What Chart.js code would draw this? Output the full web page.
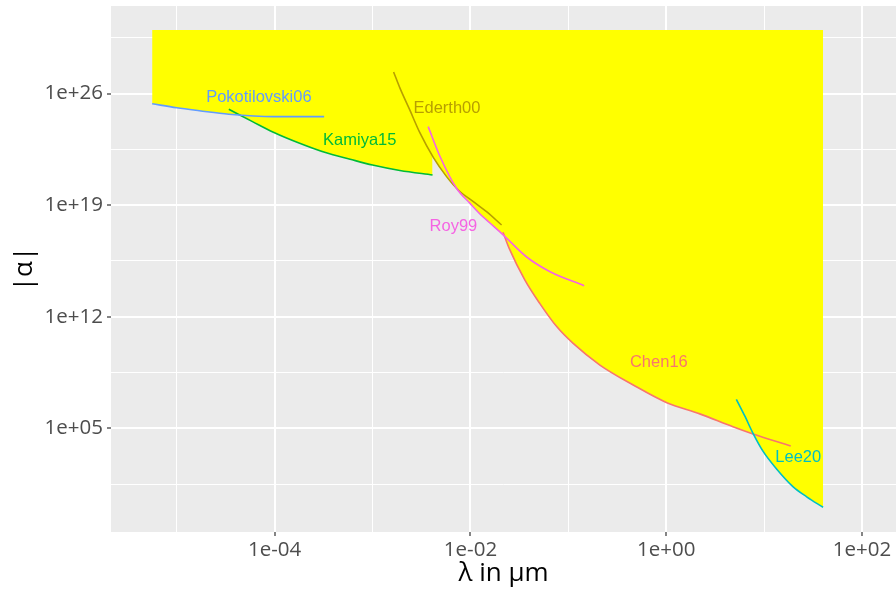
<!DOCTYPE html>
<html>
<head>
<meta charset="utf-8">
<script src="https://cdn.jsdelivr.net/npm/chart.js@4.4.1/dist/chart.umd.min.js"></script>
<style>
  html, body { margin: 0; padding: 0; background: #fff; }
</style>
</head>
<body>
<canvas id="chart" width="896" height="592"></canvas>
<script>
// lambda in um, |alpha| per experiment
const pokoX = [5.6e-6, 1e-5, 1.7e-5, 3.4e-5, 9.7e-5, 3.2e-4];
const pokoY = [2.3e25, 1.3e25, 8.5e24, 5.1e24, 3.6e24, 3.6e24];

const kamiyaX = [3.4e-5, 6.0e-5, 9.7e-5, 1.8e-4, 3.3e-4, 5.9e-4, 1e-3, 1.9e-3, 4.1e-3];
const kamiyaY = [1.05e25, 1.7e24, 3.8e23, 7.7e22, 2.0e22, 7.6e21, 3.3e21, 1.5e21, 7.9e20];

const ederthX = [1.64e-3, 1.9e-3, 2.4e-3, 3.05e-3, 4.2e-3, 5.7e-3, 7.5e-3, 1.07e-2, 1.46e-2, 2.08e-2];
const ederthY = [2.3e27, 2.3e26, 9.5e24, 3.4e23, 9.2e21, 6.2e20, 9.0e19, 1.66e19, 3.9e18, 5.7e17];

const royX = [3.7e-3, 4.9e-3, 7.2e-3, 9.9e-3, 1.25e-2, 1.58e-2, 2.0e-2, 2.5e-2, 3.75e-2, 6.5e-2, 0.145];
const royY = [8.5e23, 1.1e22, 1.15e20, 1.3e19, 2.8e18, 7.6e17, 2.1e17, 5.7e16, 5.6e15, 6.7e14, 8.9e13];

const chenX = [2.15e-2, 2.5e-2, 3.6e-2, 5.1e-2, 7.6e-2, 0.112, 0.21, 0.46, 1.0, 2.2, 4.8, 7.7, 18.7];
const chenY = [2.0e17, 1.8e16, 2.0e14, 6.9e12, 2.4e11, 2.1e10, 9.3e8, 5.2e7, 4.2e6, 8.0e5, 1.25e5, 4.4e4, 7.6e3];

const leeX = [5.2, 6.4, 7.7, 9.8, 13.4, 19.8, 27.2, 40];
const leeY = [6.6e6, 5.3e5, 4.8e4, 3.4e3, 2.8e2, 21, 5.0, 1.1];

// top of the excluded (yellow) region
const excludedTop = 1e30;

// curve labels
const labelNames = ["Pokotilovski06", "Kamiya15", "Ederth00", "Roy99", "Chen16", "Lee20"];
const labelX = [6.9e-5, 7.4e-4, 5.75e-3, 6.7e-3, 0.84, 22.3];
const labelY = [7.3e25, 1.5e23, 1.46e25, 5.7e17, 1.6e9, 1.7e3];

// ticks
const xMajor = [1e-4, 1e-2, 1, 1e2];
const xMinor = [1e-5, 1e-3, 1e-1, 1e1];
const yMajor = [1e5, 1e12, 1e19, 1e26];
const yMinor = [10 ** 1.5, 10 ** 8.5, 10 ** 15.5, 10 ** 22.5, 10 ** 29.5];

const colors = {
  Chen16: "#F8766D",
  Ederth00: "#B79F00",
  Kamiya15: "#00BA38",
  Lee20: "#00BFC4",
  Pokotilovski06: "#619CFF",
  Roy99: "#F564E3",
};

function fmtExp(v) {
  const e = Math.round(Math.log10(v));
  return "1e" + (e < 0 ? "-" : "+") + String(Math.abs(e)).padStart(2, "0");
}

function curve(name, xs, ys) {
  return {
    label: name,
    data: xs.map((x, i) => ({ x: x, y: ys[i] })),
    borderColor: colors[name],
    backgroundColor: "#FFFF00",
    fill: { value: excludedTop },
    borderWidth: 1.6,
    pointRadius: 0,
    cubicInterpolationMode: "monotone",
  };
}

const panelBg = {
  id: "panelBg",
  beforeDraw(chart) {
    const { ctx, chartArea: a } = chart;
    ctx.save();
    ctx.fillStyle = "#EBEBEB";
    ctx.fillRect(a.left, a.top, a.right - a.left, a.bottom - a.top);
    ctx.restore();
  },
};

const curveLabels = {
  id: "curveLabels",
  afterDatasetsDraw(chart) {
    const { ctx, scales } = chart;
    const size = 16.5;
    ctx.save();
    ctx.font = size + 'px "Liberation Sans", Arial, sans-serif';
    ctx.textAlign = "center";
    ctx.textBaseline = "alphabetic";
    labelNames.forEach((name, i) => {
      ctx.fillStyle = colors[name];
      const px = scales.x.getPixelForValue(labelX[i]);
      const py = scales.y.getPixelForValue(labelY[i]);
      ctx.fillText(name, px, py + 0.36 * size);
    });
    ctx.restore();
  },
};

const tickFont = { family: "'Open Sans'", size: 20.5 };
const titleFont = { family: "'Open Sans'", size: 26 };

new Chart(document.getElementById("chart"), {
  type: "line",
  data: {
    datasets: [
      curve("Roy99", royX, royY),
      curve("Pokotilovski06", pokoX, pokoY),
      curve("Lee20", leeX, leeY),
      curve("Kamiya15", kamiyaX, kamiyaY),
      curve("Ederth00", ederthX, ederthY),
      curve("Chen16", chenX, chenY),
    ],
  },
  options: {
    responsive: false,
    animation: false,
    devicePixelRatio: 1,
    layout: { padding: { top: 6, right: 0, left: 0, bottom: 0 } },
    plugins: {
      legend: { display: false },
      tooltip: { enabled: false },
      filler: { drawTime: "beforeDatasetsDraw" },
    },
    scales: {
      x: {
        type: "logarithmic",
        min: 10 ** -5.672,
        max: 10 ** 2.347,
        bounds: "data",
        afterBuildTicks: (s) => {
          s.ticks = xMinor.concat(xMajor).sort((a, b) => a - b)
            .map((v) => ({ value: v, major: xMajor.includes(v) }));
        },
        afterFit: (s) => {
          s.height = 60;
          s.paddingLeft = 0;
          s.paddingRight = 0;
        },
        ticks: {
          autoSkip: false,
          maxRotation: 0,
          padding: 2,
          color: "#4D4D4D",
          font: tickFont,
          callback: (v) => (xMajor.includes(v) ? fmtExp(v) : ""),
        },
        grid: {
          color: "#FFFFFF",
          lineWidth: (c) => (c.tick && c.tick.major ? 2 : 1),
          tickLength: 4,
          tickWidth: 1.2,
          tickColor: (c) => (c.tick && c.tick.major ? "#333333" : "rgba(0,0,0,0)"),
        },
        border: { display: false },
        title: {
          display: true,
          text: "λ in μm",
          color: "#000",
          font: titleFont,
          padding: { top: 0, bottom: 3 },
        },
      },
      y: {
        type: "logarithmic",
        min: 10 ** -1.51,
        max: 10 ** 31.5,
        bounds: "data",
        afterBuildTicks: (s) => {
          s.ticks = yMinor.concat(yMajor).sort((a, b) => a - b)
            .map((v) => ({ value: v, major: yMajor.includes(v) }));
        },
        afterFit: (s) => {
          s.width = 111;
          s.paddingTop = 0;
          s.paddingBottom = 0;
        },
        ticks: {
          autoSkip: false,
          padding: 4,
          color: "#4D4D4D",
          font: tickFont,
          callback: (v) => (yMajor.includes(v) ? fmtExp(v) : ""),
        },
        grid: {
          color: "#FFFFFF",
          lineWidth: (c) => (c.tick && c.tick.major ? 2 : 1),
          tickLength: 4,
          tickWidth: 1.2,
          tickColor: (c) => (c.tick && c.tick.major ? "#333333" : "rgba(0,0,0,0)"),
        },
        border: { display: false },
        title: {
          display: true,
          text: "|α|",
          color: "#000",
          font: titleFont,
          padding: { top: 9, bottom: 0 },
        },
      },
    },
  },
  plugins: [panelBg, curveLabels],
});
</script>
</body>
</html>
